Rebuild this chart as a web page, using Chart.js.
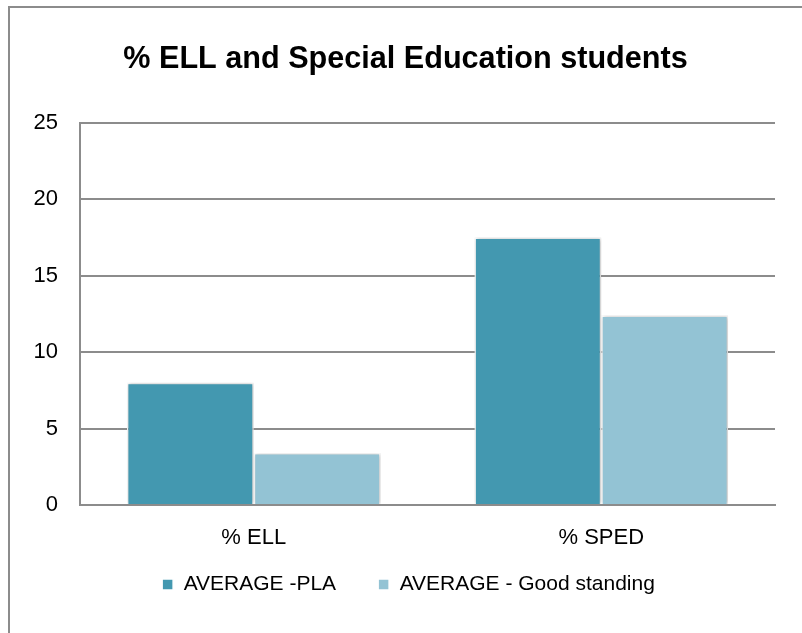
<!DOCTYPE html>
<html><head><meta charset="utf-8">
<script src="https://cdn.jsdelivr.net/npm/chart.js@4/dist/chart.umd.min.js"></script>
<style>
html,body{margin:0;padding:0;background:#fff;}
#wrap{position:absolute;left:0;top:0;width:802px;height:633px;}
#frame{position:absolute;left:8px;top:6px;width:900px;height:700px;border:2px solid #8c8c8c;box-sizing:border-box;}
</style></head>
<body>
<div id="frame"></div>
<div id="wrap"><canvas id="c" width="802" height="633"></canvas></div>
<script>
const categories = ["% ELL", "% SPED"];
const seriesNames = ["AVERAGE -PLA", "AVERAGE - Good standing"];
const plaValues = [8.0, 17.5];
const goodStandingValues = [3.4, 12.4];
const yTicks = [0, 5, 10, 15, 20, 25];

const FONT = "'Liberation Sans Narrow', 'Arial Narrow', 'Liberation Sans', Arial, sans-serif";

const shiftPlugin = {
  id: 'shiftBlocks',
  afterLayout(chart) {
    if (chart.titleBlock) { chart.titleBlock.left += 13; chart.titleBlock.right += 13; }
    if (chart.legend) {
      chart.legend.left += 16; chart.legend.right += 16;
      chart.legend.top -= 25; chart.legend.bottom -= 25;
    }
  },
  beforeDatasetsDraw(chart) {
    const ctx = chart.ctx;
    ctx.save();
    ctx.shadowColor = 'rgba(0,0,0,0.28)';
    ctx.shadowBlur = 4;
    ctx.shadowOffsetX = 1;
    ctx.shadowOffsetY = 0;
  },
  afterDatasetsDraw(chart) { chart.ctx.restore(); }
};

new Chart(document.getElementById('c'), {
  type: 'bar',
  data: {
    labels: categories,
    datasets: [
      {label: seriesNames[0], data: plaValues, backgroundColor: '#4398b0', borderColor: '#ffffff', borderWidth: 1.5, categoryPercentage: 0.73, barPercentage: 1.0},
      {label: seriesNames[1], data: goodStandingValues, backgroundColor: '#93c3d4', borderColor: '#ffffff', borderWidth: 1.5, categoryPercentage: 0.73, barPercentage: 1.0}
    ]
  },
  plugins: [shiftPlugin],
  options: {
    responsive: false,
    animation: false,
    devicePixelRatio: 1,
    layout: {padding: {left: 10, right: 27, top: 0, bottom: 3}},
    plugins: {
      title: {display: true, text: '% ELL and Special Education students', color: '#000',
        font: {family: "'Liberation Sans Narrow', 'Arial Narrow', 'Liberation Sans', Arial, sans-serif", size: 30.6, weight: 'bold'},
        padding: {top: 41, bottom: 45}},
      legend: {position: 'bottom', labels: {color: '#000', font: {family: FONT, size: 21}, boxWidth: 11, boxHeight: 11, padding: 42}},
      tooltip: {enabled: false}
    },
    scales: {
      x: {
        grid: {display: false, drawTicks: false},
        border: {display: true, color: '#8c8c8c', width: 2},
        ticks: {color: '#000', font: {family: FONT, size: 22}, padding: 20},
        afterFit: s => { s.height = 52; }
      },
      y: {
        min: 0, max: 25,
        afterBuildTicks: s => { s.ticks = yTicks.map(v => ({value: v})); },
        grid: {color: '#8c8c8c', lineWidth: 2, drawTicks: false},
        border: {display: true, color: '#8c8c8c', width: 2},
        ticks: {color: '#000', font: {family: FONT, size: 22}, padding: 22},
        afterFit: s => { s.width = 70; }
      }
    }
  }
});
</script>
</body></html>
